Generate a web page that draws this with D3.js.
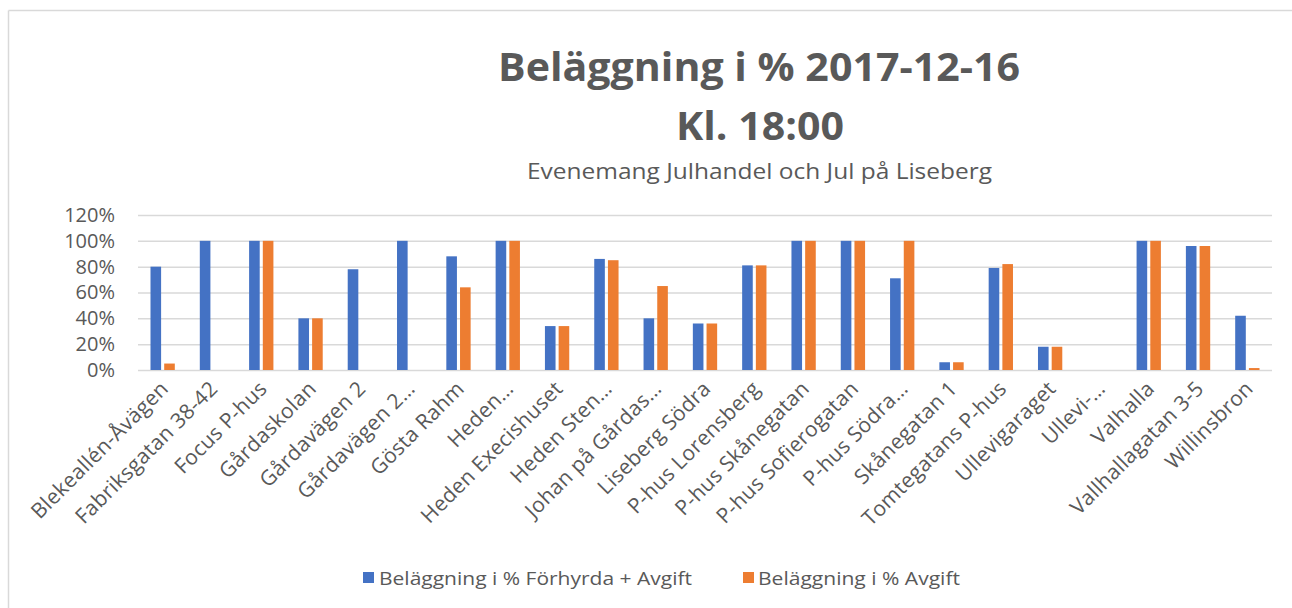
<!DOCTYPE html>
<html>
<head>
<meta charset="utf-8">
<script src="https://cdn.jsdelivr.net/npm/d3@7"></script>
<style>
  html, body { margin: 0; padding: 0; background: #fff; }
  svg { display: block; }
  text { font-family: "Open Sans", "Noto Sans", sans-serif; fill: #595959; }
</style>
</head>
<body>
<script>
const categories = [
  "Blekeallén-Åvägen", "Fabriksgatan 38-42", "Focus P-hus", "Gårdaskolan",
  "Gårdavägen 2", "Gårdavägen 2…", "Gösta Rahm", "Heden…",
  "Heden Execishuset", "Heden Sten…", "Johan på Gårdas…", "Liseberg Södra",
  "P-hus Lorensberg", "P-hus Skånegatan", "P-hus Sofierogatan", "P-hus Södra…",
  "Skånegatan 1", "Tomtegatans P-hus", "Ullevigaraget", "Ullevi-…",
  "Valhalla", "Vallhallagatan 3-5", "Willinsbron"
];
const seriesNames = ["Beläggning i % Förhyrda + Avgift", "Beläggning i % Avgift"];
const forhyrdaAvgift = [80, 100, 100, 40, 78, 100, 88, 100, 34, 86, 40, 36, 81, 100, 100, 71, 6, 79, 18, 0, 100, 96, 42];
const avgift =         [5, 0, 100, 40, 0, 0, 64, 100, 34, 85, 65, 36, 81, 100, 100, 100, 6, 82, 18, 0, 100, 96, 1.5];
const yTicks = [0, 20, 40, 60, 80, 100, 120];
const colors = ["#4472C4", "#ED7D31"];
const titleLines = ["Beläggning i % 2017-12-16", "Kl. 18:00"];
const subtitle = "Evenemang Julhandel och Jul på Liseberg";

const W = 1292, H = 608;
const svg = d3.select("body").append("svg").attr("width", W).attr("height", H);

// chart border (left + top visible)
svg.append("line").attr("x1", 8.5).attr("x2", 8.5).attr("y1", 10.5).attr("y2", H)
  .attr("stroke", "#D9D9D9").attr("stroke-width", 1.5);
svg.append("line").attr("x1", 8.5).attr("x2", W).attr("y1", 10.5).attr("y2", 10.5)
  .attr("stroke", "#D9D9D9").attr("stroke-width", 1.5);

const plot = { left: 138, right: 1272, top: 215, bottom: 370 };

const x0 = d3.scaleBand().domain(categories).range([plot.left, plot.right])
  .paddingInner(0.507).paddingOuter(0.2535);
const x1 = d3.scaleBand().domain([0, 1]).range([0, x0.bandwidth()]).paddingInner(0.226);
const y = d3.scaleLinear().domain([0, 120]).range([plot.bottom, plot.top]);

// titles
svg.append("text").attr("x", 759).attr("y", 81).attr("text-anchor", "middle")
  .attr("font-size", 39).attr("font-weight", "bold")
  .attr("textLength", 522).attr("lengthAdjust", "spacingAndGlyphs")
  .text(titleLines[0]);
svg.append("text").attr("x", 760).attr("y", 140).attr("text-anchor", "middle")
  .attr("font-size", 39).attr("font-weight", "bold")
  .attr("textLength", 168).attr("lengthAdjust", "spacingAndGlyphs")
  .text(titleLines[1]);
svg.append("text").attr("x", 759.5).attr("y", 179).attr("text-anchor", "middle")
  .attr("font-size", 22)
  .attr("textLength", 465).attr("lengthAdjust", "spacingAndGlyphs")
  .text(subtitle);

// gridlines + y labels
const yAxis = d3.axisLeft(y).tickValues(yTicks).tickFormat(d => d + "%")
  .tickSize(-(plot.right - plot.left)).tickPadding(23);
const gy = svg.append("g").attr("transform", `translate(${plot.left},0)`).call(yAxis);
gy.select(".domain").remove();
gy.selectAll(".tick line").attr("stroke", "#D9D9D9").attr("stroke-width", 1.5);
gy.selectAll(".tick text").attr("font-size", 20).attr("fill", "#595959")
  .style("font-family", "'Open Sans', sans-serif");

// bars
const data = categories.map((c, i) => ({ c, v: [forhyrdaAvgift[i], avgift[i]] }));
const groups = svg.append("g").selectAll("g").data(data).join("g")
  .attr("transform", d => `translate(${x0(d.c)},0)`);
groups.selectAll("rect").data(d => d.v.map((v, k) => ({ v, k }))).join("rect")
  .attr("x", d => x1(d.k))
  .attr("width", x1.bandwidth())
  .attr("y", d => y(d.v))
  .attr("height", d => y(0) - y(d.v))
  .attr("fill", d => colors[d.k]);

// x axis labels
const xAxis = d3.axisBottom(x0).tickSize(0).tickPadding(0);
const gx = svg.append("g").attr("transform", `translate(0,${plot.bottom})`).call(xAxis);
gx.select(".domain").remove();
gx.selectAll(".tick text")
  .attr("font-size", 21).attr("fill", "#595959")
  .style("font-family", "'Open Sans', sans-serif")
  .style("letter-spacing", "0.3px")
  .attr("text-anchor", "end")
  .attr("dy", 0)
  .attr("transform", "translate(7,20) rotate(-45)");

// legend
const legendItems = [
  { name: seriesNames[0], color: colors[0], sx: 363, tx: 379, tw: 313 },
  { name: seriesNames[1], color: colors[1], sx: 743, tx: 758, tw: 202 }
];
const lg = svg.append("g");
legendItems.forEach(it => {
  lg.append("rect").attr("x", it.sx).attr("y", 572).attr("width", 11).attr("height", 11).attr("fill", it.color);
  lg.append("text").attr("x", it.tx).attr("y", 585).attr("font-size", 19)
    .attr("textLength", it.tw).attr("lengthAdjust", "spacingAndGlyphs").text(it.name);
});
</script>
</body>
</html>
